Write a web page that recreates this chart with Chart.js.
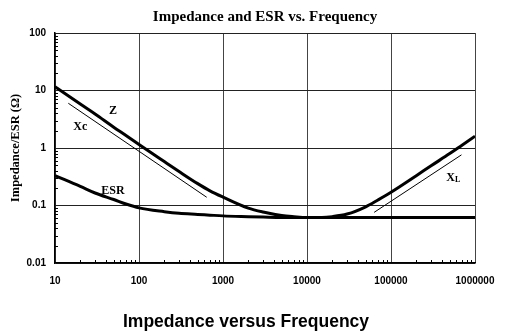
<!DOCTYPE html>
<html>
<head>
<meta charset="utf-8">
<script src="https://cdn.jsdelivr.net/npm/chart.js@4.4.1/dist/chart.umd.min.js"></script>
<style>
    body { margin: 0; background: #fff; }
    canvas { display: block; }
</style>
</head>
<body>
<canvas id="myChart" width="507" height="336"></canvas>
<script>
// data
const freq = [10, 20, 30, 50, 70, 100, 200, 300, 500, 700, 1000, 2000, 3000, 5000, 7000,
    10000, 15000, 20000, 30000, 50000, 70000, 100000, 200000, 300000, 500000, 700000, 1000000];
const zValues = [11.6, 5.8, 3.9, 2.3, 1.65, 1.15, 0.58, 0.39, 0.24, 0.18, 0.14, 0.09, 0.077, 0.067, 0.064,
    0.062, 0.062, 0.064, 0.071, 0.095, 0.125, 0.17, 0.33, 0.49, 0.8, 1.12, 1.6];
const esrValues = [0.33, 0.215, 0.165, 0.127, 0.106, 0.091, 0.078, 0.073, 0.07, 0.068, 0.066, 0.064, 0.063, 0.062, 0.062,
    0.062, 0.062, 0.062, 0.062, 0.062, 0.062, 0.062, 0.062, 0.062, 0.062, 0.062, 0.062];
const xcFreq = [14.4, 640];
const xcValues = [6.0, 0.139];
const xlFreq = [63000, 690000];
const xlValues = [0.076, 0.76];
const xTicks = [10, 100, 1000, 10000, 100000, 1000000];
const yTicks = [0.01, 0.1, 1, 10, 100];

// curve names, written next to the lines (data coords)
const curveLabels = [
    { text: 'Z', sub: '', x: 49, y: 4.4 },
    { text: 'Xc', sub: '', x: 20, y: 2.3 },
    { text: 'ESR', sub: '', x: 49, y: 0.179 },
    { text: 'X', sub: 'L', x: 513000, y: 0.297 }
];

const toPoints = (xs, ys) => xs.map((x, i) => ({ x: x, y: ys[i] }));

// titles, labels, minor ticks
const decorPlugin = {
    id: 'decor',
    afterDraw(chart) {
        const ctx = chart.ctx;
        const area = chart.chartArea;
        const sx = chart.scales.x, sy = chart.scales.y;
        ctx.save();
        ctx.fillStyle = '#000';

        // title
        ctx.font = 'bold 15px "Liberation Serif"';
        ctx.textAlign = 'center';
        ctx.textBaseline = 'middle';
        ctx.fillText('Impedance and ESR vs. Frequency', (area.left + area.right) / 2, 17);

        // y axis title
        ctx.save();
        ctx.translate(16, (area.top + area.bottom) / 2);
        ctx.rotate(-Math.PI / 2);
        ctx.font = 'bold 12.5px "Liberation Serif"';
        ctx.fillText('Impedance/ESR (Ω)', 0, 0);
        ctx.restore();

        // caption under the chart
        ctx.font = 'bold 17.5px "Liberation Sans"';
        ctx.fillText('Impedance versus Frequency', 246, 322);

        // curve names
        curveLabels.forEach(l => {
            const px = sx.getPixelForValue(l.x), py = sy.getPixelForValue(l.y);
            ctx.font = 'bold 12px "Liberation Serif"';
            ctx.textAlign = 'center';
            ctx.fillText(l.text, px, py);
            if (l.sub) {
                const w = ctx.measureText(l.text).width;
                ctx.font = 'bold 8px "Liberation Serif"';
                ctx.textAlign = 'left';
                ctx.fillText(l.sub, px + w / 2, py + 2);
            }
        });

        // minor ticks, inside the plot
        ctx.strokeStyle = '#000';
        ctx.lineWidth = 1;
        ctx.beginPath();
        for (let d = 10; d < 1000000; d *= 10) {
            for (let k = 2; k <= 9; k++) {
                const px = Math.round(sx.getPixelForValue(k * d)) + 0.5;
                ctx.moveTo(px, area.bottom);
                ctx.lineTo(px, area.bottom - 3);
            }
        }
        for (let d = 0.01; d < 99; d *= 10) {
            for (let k = 2; k <= 9; k++) {
                const py = Math.round(sy.getPixelForValue(k * d)) + 0.5;
                ctx.moveTo(area.left, py);
                ctx.lineTo(area.left + 3, py);
            }
        }
        ctx.stroke();
        ctx.restore();
    }
};

const ctx = document.getElementById('myChart');
new Chart(ctx, {
    type: 'scatter',
    data: {
        datasets: [
            { label: 'Z', data: toPoints(freq, zValues), borderColor: '#000', borderWidth: 3, cubicInterpolationMode: 'monotone' },
            { label: 'ESR', data: toPoints(freq, esrValues), borderColor: '#000', borderWidth: 3, cubicInterpolationMode: 'monotone' },
            { label: 'Xc', data: toPoints(xcFreq, xcValues), borderColor: '#000', borderWidth: 1 },
            { label: 'XL', data: toPoints(xlFreq, xlValues), borderColor: '#000', borderWidth: 1 }
        ].map(ds => Object.assign(ds, { showLine: true, pointRadius: 0, fill: false }))
    },
    options: {
        responsive: false,
        animation: false,
        layout: { padding: { top: 33, right: 32, left: 0, bottom: 0 } },
        plugins: { legend: { display: false }, tooltip: { enabled: false }, title: { display: false } },
        scales: {
            x: {
                type: 'logarithmic', min: 10, max: 1000000,
                afterBuildTicks: s => { s.ticks = xTicks.map(v => ({ value: v })); },
                afterFit: s => { s.height = 73; },
                grid: { color: '#444', lineWidth: 1, drawTicks: false },
                border: { color: '#000', width: 1.5 },
                ticks: {
                    padding: 12, color: '#000', maxRotation: 0,
                    font: { family: 'Liberation Sans', size: 10, weight: 'bold' },
                    callback: v => String(v)
                }
            },
            y: {
                type: 'logarithmic', min: 0.01, max: 100,
                afterBuildTicks: s => { s.ticks = yTicks.map(v => ({ value: v })); },
                afterFit: s => { s.width = 55; },
                grid: { color: '#222', lineWidth: 1, drawTicks: false },
                border: { color: '#000', width: 1.5 },
                ticks: {
                    padding: 9, color: '#000',
                    font: { family: 'Liberation Sans', size: 10, weight: 'bold' },
                    callback: v => String(v)
                }
            }
        }
    },
    plugins: [decorPlugin]
});
</script>
</body>
</html>
